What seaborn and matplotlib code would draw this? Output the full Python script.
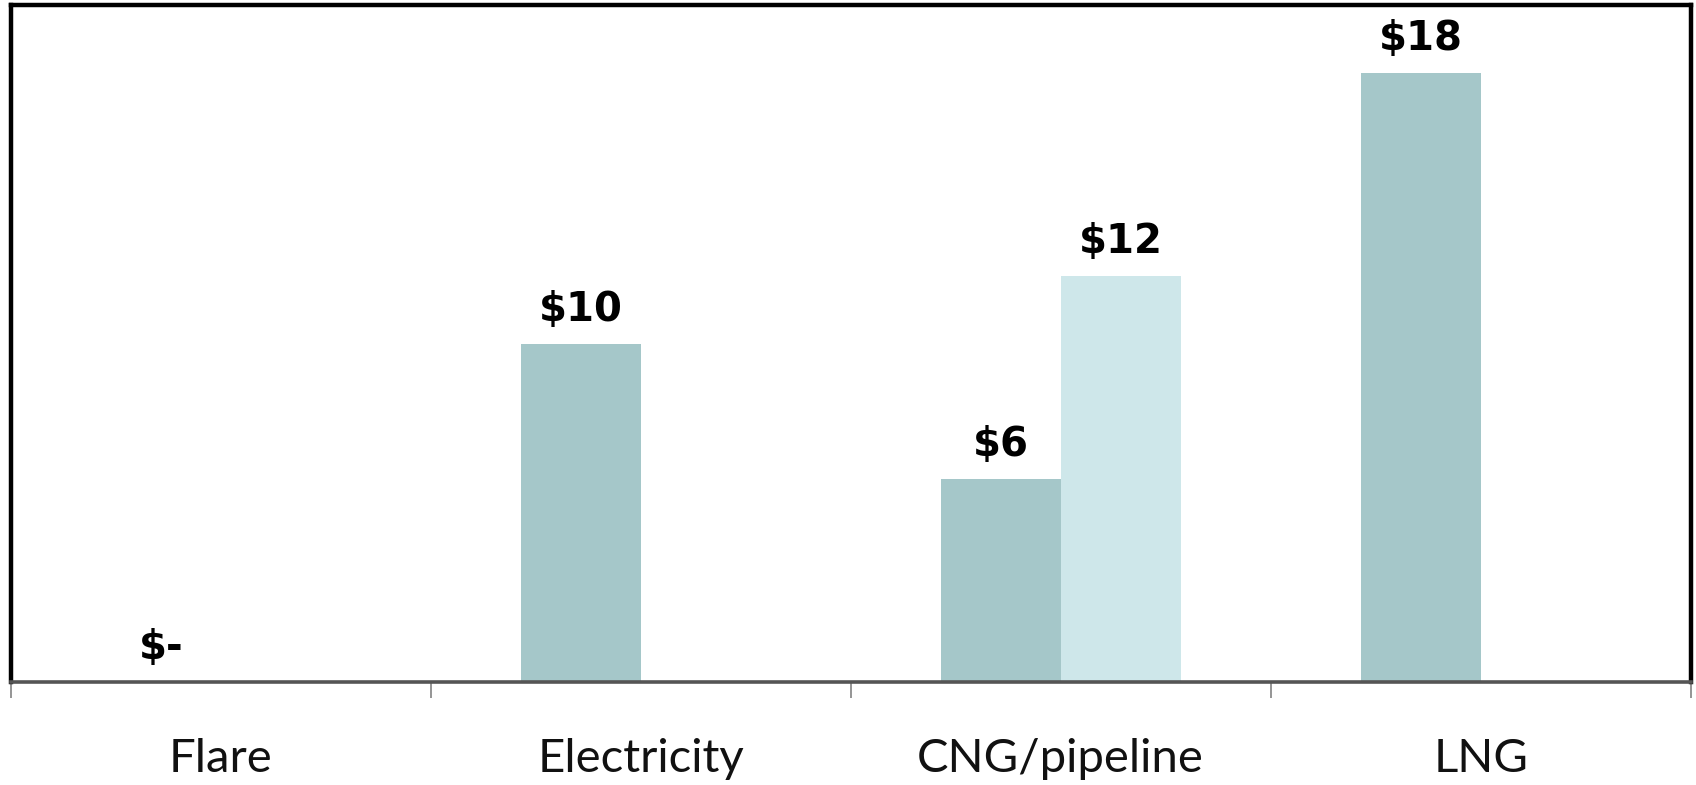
import matplotlib
matplotlib.use("Agg")
import matplotlib.pyplot as plt
import seaborn as sns
import pandas as pd
import numpy as np

# Cost per unit by gas-use pathway
categories = ["Flare", "Electricity", "CNG/pipeline", "LNG"]
low_values = [0, 10, 6, 18]
high_values = [None, None, 12, None]
series_names = ["Low", "High"]
palette = ["#a5c7c9", "#cee7ea"]

rows = []
for cat, lo, hi in zip(categories, low_values, high_values):
    if lo is not None:
        rows.append({"category": cat, "series": series_names[0], "value": lo})
    if hi is not None:
        rows.append({"category": cat, "series": series_names[1], "value": hi})
df = pd.DataFrame(rows)

sns.set_theme(style="white")
plt.rcParams["font.family"] = ["DejaVu Sans"]

fig = plt.figure(figsize=(16.96, 7.85), dpi=100)
ax = fig.add_axes([10.8 / 1696, 1 - 682 / 785, (1690.6 - 10.8) / 1696, (682 - 5) / 785])

sns.barplot(data=df, x="category", y="value", hue="series", order=categories,
            hue_order=series_names, palette=palette, width=0.572, dodge=True,
            saturation=1, ax=ax, legend=False, errorbar=None, linewidth=0)

ax.set_xlim(-0.5, len(categories) - 0.5)
ax.set_ylim(0, 20)
ax.set_xlabel("")
ax.set_ylabel("")
ax.set_yticks([])

def money(v):
    return "$-" if v == 0 else f"${v:g}"

for cont in ax.containers:
    vals = [b.get_height() for b in cont]
    ax.bar_label(cont, labels=[money(v) for v in vals], padding=10,
                 fontsize=29, fontweight="bold", color="black")

# Boundaries between categories
ax.set_xticks(np.arange(len(categories) + 1) - 0.5, minor=False)
ax.set_xticklabels([])
ax.set_xticks(np.arange(len(categories)), minor=True)
ax.set_xticklabels(categories, minor=True, fontsize=34, family="Lato",
                   fontweight="normal", color="#111111")
ax.tick_params(axis="x", which="major", bottom=True, length=11.5, width=1.3,
               color="#8c8c8c")
ax.tick_params(axis="x", which="minor", bottom=False, length=0, pad=40)

for side in ["left", "top", "right"]:
    ax.spines[side].set_color("black")
    ax.spines[side].set_linewidth(3.2)
    ax.spines[side].set_visible(True)
ax.spines["bottom"].set_color("#555555")
ax.spines["bottom"].set_linewidth(2.6)
ax.spines["bottom"].set_zorder(5)

fig.savefig("out.png", dpi=100)
